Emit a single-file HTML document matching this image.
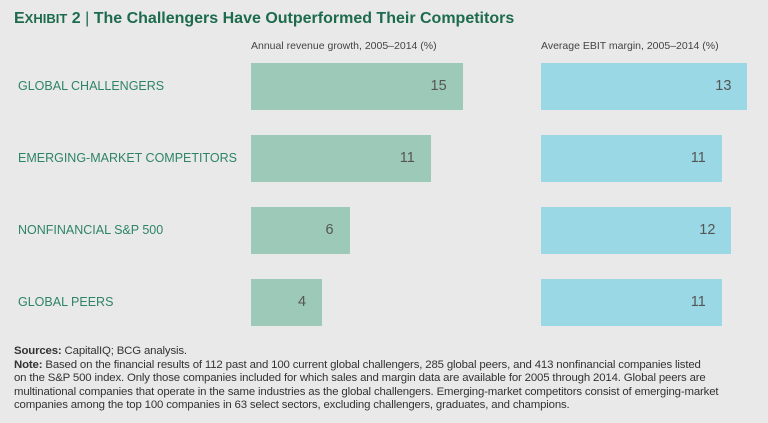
<!DOCTYPE html>
<html><head><meta charset="utf-8"><style>
body{margin:0;width:768px;height:423px;background:#e9e9e9;font-family:"Liberation Sans",sans-serif;position:relative;overflow:hidden}
.t{position:absolute;white-space:nowrap}
#title{left:14px;top:10px;font-size:16px;font-weight:bold;color:#1d6b4e}
.ax{top:40px;font-size:10.5px;color:#444}
.cat{left:18px;font-size:12.5px;color:#2e8466}
.bar{position:absolute;height:47px}
.val{position:absolute;font-size:14.5px;color:#555;text-align:right}
#notes{left:14px;top:345px;font-size:11.4px;line-height:13.6px;color:#333;letter-spacing:-0.15px}
</style></head><body>
<div class="t" id="title">E<span style="font-size:13px">XHIBIT</span> 2 <span style="font-weight:normal">|</span> The Challengers Have Outperformed Their Competitors</div>
<div class="t ax" style="left:251px">Annual revenue growth, 2005–2014 (%)</div>
<div class="t ax" style="left:541px">Average EBIT margin, 2005–2014 (%)</div>
<div id="chart"></div>
<div class="t" id="notes"><b>Sources:</b> CapitalIQ; BCG analysis.<br><b>Note:</b> Based on the financial results of 112 past and 100 current global challengers, 285 global peers, and 413 nonfinancial companies listed<br>on the S&amp;P 500 index. Only those companies included for which sales and margin data are available for 2005 through 2014. Global peers are<br>multinational companies that operate in the same industries as the global challengers. Emerging-market competitors consist of emerging-market<br>companies among the top 100 companies in 63 select sectors, excluding challengers, graduates, and champions.</div>
<script>
const categories=["GLOBAL CHALLENGERS","EMERGING-MARKET COMPETITORS","NONFINANCIAL S&P 500","GLOBAL PEERS"];
const revenueValues=[14.6,12.4,6.8,4.9];
const revenueLabels=["15","11","6","4"];
const ebitValues=[12.9,11.3,11.9,11.3];
const ebitLabels=["13","11","12","11"];
const c=document.getElementById('chart');
const rowY=i=>63+i*72;
const xRev=v=>v*14.5, xEbit=v=>v*16;
categories.forEach((cat,i)=>{
  const l=document.createElement('div');l.className='t cat';l.style.top=(rowY(i)+16)+'px';l.textContent=cat;
  
  
  c.appendChild(l);
  [[251,xRev(revenueValues[i]),revenueLabels[i],'#9dc9b9','revenue-bar'],[541,xEbit(ebitValues[i]),ebitLabels[i],'#9ad8e6','ebit-bar']].forEach(([x0,w,lab,col,nm])=>{
    const b=document.createElement('div');b.className='bar';
    b.style.left=x0+'px';b.style.top=rowY(i)+'px';b.style.width=w+'px';b.style.background=col;
    
    
    c.appendChild(b);
    const v=document.createElement('div');v.className='val';
    v.style.left=(x0+w-60-16)+'px';v.style.width='60px';v.style.top=(rowY(i)+15)+'px';v.textContent=lab;
    
    
    c.appendChild(v);
  });
});
</script>
</body></html>
